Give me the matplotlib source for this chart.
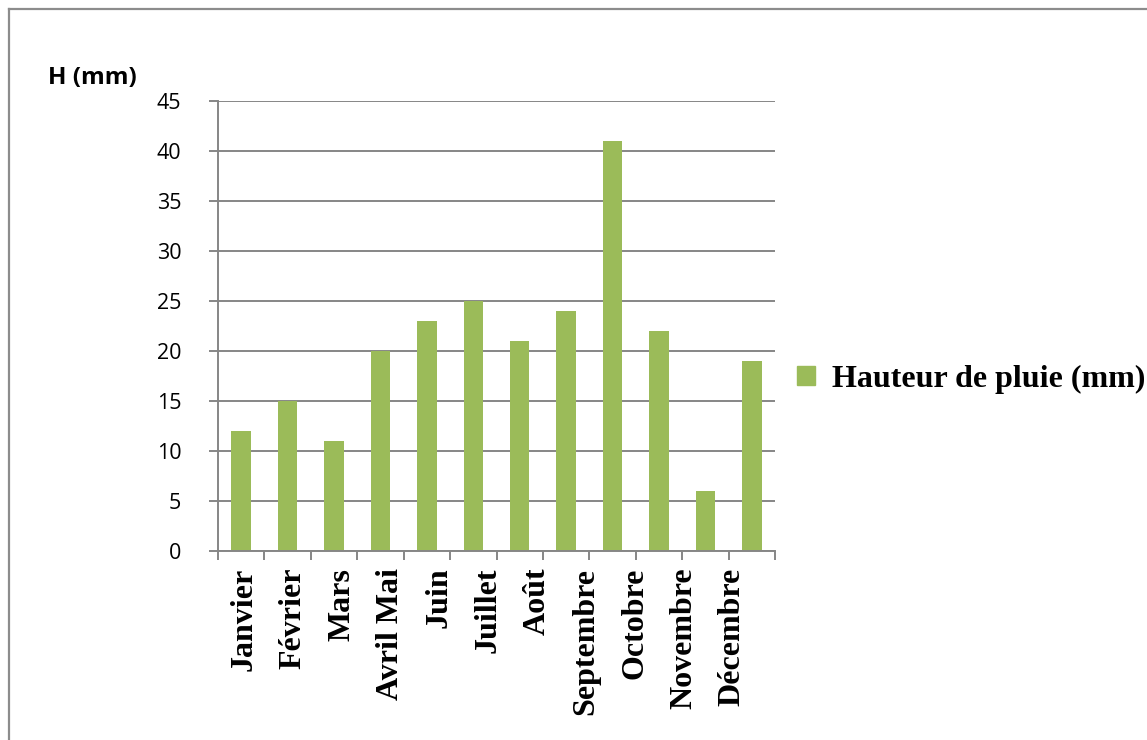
import numpy as np
import matplotlib.pyplot as plt
from matplotlib.patches import Patch
from matplotlib.lines import Line2D

mois = ["Janvier", "Février", "Mars", "Avril Mai", "Juin", "Juillet", "Août",
        "Septembre", "Octobre", "Novembre", "Décembre"]
hauteur = [12, 15, 11, 20, 23, 25, 21, 24, 41, 22, 6, 19]
y_ticks = [0, 5, 10, 15, 20, 25, 30, 35, 40, 45]

vert = "#9BBB59"
gris = "#868686"

W, H = 1147, 740
fig = plt.figure(figsize=(W / 100, H / 100), dpi=100)
ax = fig.add_axes([218 / W, 1 - 551 / H, (775 - 218) / W, (551 - 101) / H])

x = np.arange(len(hauteur))
ax.bar(x, hauteur, width=0.42, color=vert, zorder=3)

ax.set_xlim(-0.5, len(hauteur) - 0.5)
ax.set_ylim(0, 45)

# grille horizontale qui déborde à gauche comme une graduation
ax.set_yticks(y_ticks)
ax.set_yticklabels([str(v) for v in y_ticks], fontsize=15.5, family="Open Sans")
ax.yaxis.grid(True, color=gris, linewidth=1.4, zorder=0)
ax.tick_params(axis="y", length=6.5, width=1.4, color=gris, pad=20)

# graduations aux frontières des catégories, libellés décalés
ax.set_xticks(np.arange(len(hauteur) + 1) - 0.5, minor=True)
ax.tick_params(axis="x", which="minor", length=6.5, width=1.4, color=gris,
               direction="out")
ax.set_xticks(np.arange(len(mois)) * 1.052 + 0.06)
ax.set_xticklabels(mois, rotation=90, fontsize=23, fontweight="bold",
                   family="Liberation Serif", va="top", ha="center")
ax.tick_params(axis="x", which="major", length=0, pad=12)

for side in ["top", "right"]:
    ax.spines[side].set_visible(False)
for side in ["left", "bottom"]:
    ax.spines[side].set_color(gris)
    ax.spines[side].set_linewidth(1.4)
    ax.spines[side].set_zorder(4)

fig.text(48 / W, 1 - 78 / H, "H (mm)", fontsize=17.5, fontweight="bold",
         family="Open Sans", ha="left", va="center")

fig.legend(handles=[Patch(color=vert, label="Hauteur de pluie (mm)")],
           loc="center left", bbox_to_anchor=(797 / W, 1 - 379 / H),
           frameon=False, borderpad=0, borderaxespad=0,
           handlelength=0.55, handleheight=0.55, handletextpad=0.56,
           prop={"family": "Liberation Serif", "weight": "bold", "size": 23})

# cadre extérieur (bords gauche et haut)
fig.add_artist(Line2D([9 / W, 9 / W], [0, 1 - 9 / H], color="#8c8c8c",
                      linewidth=1.6, transform=fig.transFigure))
fig.add_artist(Line2D([9 / W, 1], [1 - 9 / H, 1 - 9 / H], color="#8c8c8c",
                      linewidth=1.6, transform=fig.transFigure))

fig.savefig("out.png", dpi=100)
